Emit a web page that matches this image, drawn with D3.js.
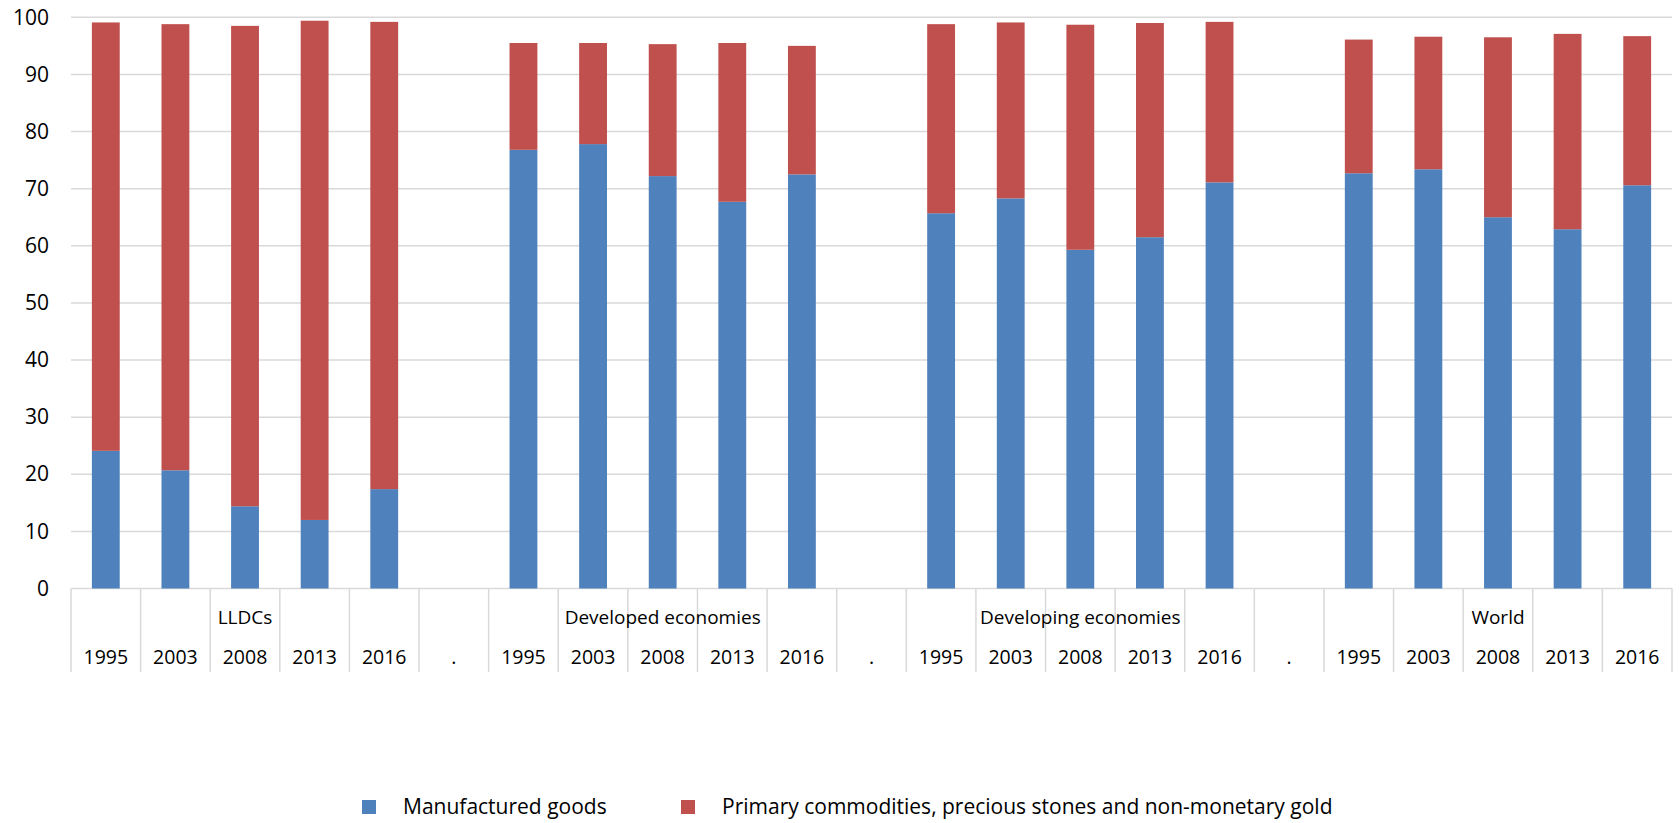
<!DOCTYPE html>
<html>
<head>
<meta charset="utf-8">
<script src="https://cdn.jsdelivr.net/npm/d3@7/dist/d3.min.js"></script>
<style>
  body { margin: 0; background: #fff; }
  text { font-family: "Open Sans", sans-serif; fill: #000; }
</style>
</head>
<body>
<svg id="chart" width="1679" height="823"></svg>
<script>
// ---- data
var years = ["1995", "2003", "2008", "2013", "2016", ".",
             "1995", "2003", "2008", "2013", "2016", ".",
             "1995", "2003", "2008", "2013", "2016", ".",
             "1995", "2003", "2008", "2013", "2016"];
var groupLabels = ["", "", "LLDCs", "", "", "",
                   "", "", "Developed economies", "", "", "",
                   "", "", "Developing economies", "", "", "",
                   "", "", "World", "", ""];
var manufactured = [24.1, 20.7, 14.4, 12.0, 17.4, 0,
                    76.8, 77.8, 72.2, 67.7, 72.5, 0,
                    65.7, 68.3, 59.3, 61.5, 71.1, 0,
                    72.7, 73.4, 65.0, 62.9, 70.6];
var primary = [75.0, 78.1, 84.1, 87.4, 81.8, 0,
               18.7, 17.7, 23.1, 27.8, 22.5, 0,
               33.1, 30.8, 39.4, 37.5, 28.1, 0,
               23.4, 23.2, 31.5, 34.2, 26.1];
var seriesNames = ["Manufactured goods", "Primary commodities, precious stones and non-monetary gold"];
var yTicks = [0, 10, 20, 30, 40, 50, 60, 70, 80, 90, 100];

var colors = ["#4f81bd", "#c0504d"];

// ---- layout
var margin = {top: 17.3, left: 71, right: 7, bottom: 234.5};
var width = 1679, height = 823;
var svg = d3.select("#chart");

var idx = d3.range(years.length);
var x = d3.scaleBand().domain(idx).range([margin.left, width - margin.right]).padding(0);
var y = d3.scaleLinear().domain([0, 100]).range([height - margin.bottom, margin.top]);
var barW = x.bandwidth() * 0.4;

// gridlines
svg.append("g").selectAll("line")
  .data(yTicks)
  .enter().append("line")
    .attr("x1", x.range()[0]).attr("x2", x.range()[1])
    .attr("y1", d => y(d)).attr("y2", d => y(d))
    .style("stroke", "#d9d9d9")
    .style("stroke-width", 1.5);

// y labels
var yAxis = d3.axisLeft(y).tickValues(yTicks).tickSize(0).tickPadding(22);
var gy = svg.append("g")
  .attr("transform", "translate(" + margin.left + ",0)")
  .call(yAxis);
gy.select(".domain").remove();
gy.selectAll("text").style("font-size", "21px").style("font-family", "Open Sans, sans-serif");

// stacked bars
var table = idx.map(function(i) { return {i: i, m: manufactured[i], p: primary[i]}; });
var stacked = d3.stack().keys(["m", "p"])(table);

svg.append("g").selectAll("g")
  .data(stacked)
  .enter().append("g")
    .style("fill", (d, k) => colors[k])
  .selectAll("rect")
  .data(d => d.filter(s => s.data.m + s.data.p > 0))
  .enter().append("rect")
    .attr("x", d => x(d.data.i) + x.bandwidth() / 2 - barW / 2)
    .attr("width", barW)
    .attr("y", d => y(d[1]))
    .attr("height", d => y(d[0]) - y(d[1]));

// category axis: cell lines + two label rows
var baseY = y(0);
var cellBottom = 672;
var bounds = idx.map(i => x(i)).concat([x.range()[1]]);
svg.append("g").selectAll("line")
  .data(bounds)
  .enter().append("line")
    .attr("x1", d => d).attr("x2", d => d)
    .attr("y1", baseY).attr("y2", cellBottom)
    .style("stroke", "#d9d9d9")
    .style("stroke-width", 1.5);

svg.append("g").selectAll("text")
  .data(idx)
  .enter().append("text")
    .attr("x", i => x(i) + x.bandwidth() / 2)
    .attr("y", 657)
    .attr("dy", "0.35em")
    .style("text-anchor", "middle")
    .style("font-size", "19.5px")
    .text(i => years[i]);

svg.append("g").selectAll("text")
  .data(idx.filter(i => groupLabels[i] !== ""))
  .enter().append("text")
    .attr("x", i => x(i) + x.bandwidth() / 2)
    .attr("y", 617)
    .attr("dy", "0.35em")
    .style("text-anchor", "middle")
    .style("font-size", "19px")
    .text(i => groupLabels[i]);

// legend
var legendX = [362, 681];
var leg = svg.append("g").selectAll("g")
  .data(seriesNames)
  .enter().append("g")
    .attr("transform", (d, k) => "translate(" + legendX[k] + ",807)");
leg.append("rect")
  .attr("x", 0).attr("y", -7)
  .attr("width", 14).attr("height", 14)
  .style("fill", (d, k) => colors[k]);
leg.append("text")
  .attr("x", 41)
  .attr("dy", "0.35em")
  .style("font-size", "21px")
  .text(d => d);
</script>
</body>
</html>
